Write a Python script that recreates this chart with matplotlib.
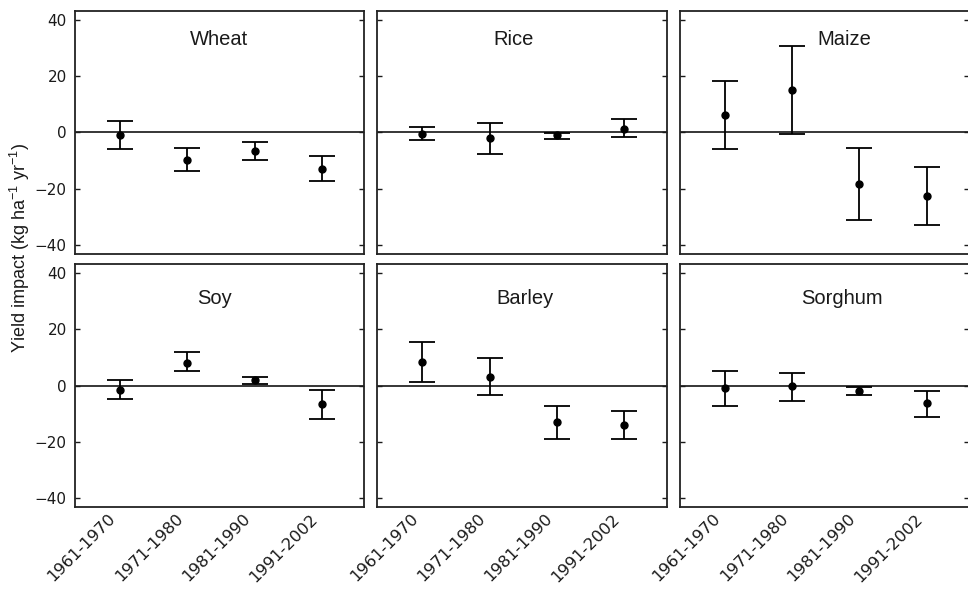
import numpy as np
import matplotlib
matplotlib.use('Agg')
import matplotlib.pyplot as plt
import matplotlib.transforms as mtransforms

plt.rcParams['font.family'] = ['Liberation Sans', 'DejaVu Sans']

periods = ['1961-1970', '1971-1980', '1981-1990', '1991-2002']
crops = ['Wheat', 'Rice', 'Maize', 'Soy', 'Barley', 'Sorghum']

# central estimate, lower and upper bound of each period, per crop
est = {
    'Wheat':   [-0.8, -9.8, -6.6, -13.0],
    'Rice':    [-0.4, -2.1, -1.1, 1.3],
    'Maize':   [6.3, 14.9, -18.2, -22.5],
    'Soy':     [-1.4, 8.1, 1.9, -6.6],
    'Barley':  [8.5, 3.2, -13.0, -14.0],
    'Sorghum': [-1.0, -0.2, -1.9, -6.3],
}
lower = {
    'Wheat':   [-5.8, -13.6, -9.8, -17.1],
    'Rice':    [-2.6, -7.8, -2.5, -1.8],
    'Maize':   [-5.8, -0.6, -31.0, -32.9],
    'Soy':     [-4.7, 5.3, 0.6, -11.8],
    'Barley':  [1.3, -3.2, -19.0, -19.0],
    'Sorghum': [-7.2, -5.3, -3.3, -11.1],
}
upper = {
    'Wheat':   [3.9, -5.7, -3.3, -8.4],
    'Rice':    [2.0, 3.2, -0.2, 4.6],
    'Maize':   [18.1, 30.6, -5.7, -12.2],
    'Soy':     [2.0, 11.8, 3.2, -1.4],
    'Barley':  [15.6, 9.8, -7.2, -9.1],
    'Sorghum': [5.3, 4.5, -0.5, -1.9],
}

# where each panel label sits (axes fraction, baseline)
title_x = [0.498, 0.472, 0.569, 0.484, 0.510, 0.559]
title_y = [0.86, 0.86, 0.86, 0.835, 0.835, 0.835]

fig, axes = plt.subplots(2, 3, figsize=(9.68, 5.9), dpi=100, sharex=True, sharey=True)
fig.subplots_adjust(left=0.0775, right=1.001, top=0.981, bottom=0.141, wspace=0.046, hspace=0.045)

txt = '#1a1a1a'
x = np.arange(1, 5)
for i, (ax, crop) in enumerate(zip(axes.flat, crops)):
    e = np.array(est[crop])
    lo = np.array(lower[crop])
    hi = np.array(upper[crop])
    ax.axhline(0, color='black', lw=1.1, zorder=1)
    ax.errorbar(x, e, yerr=[e - lo, hi - e], fmt='o', color='black', ms=5,
                elinewidth=1.3, capsize=9.7, capthick=1.3, zorder=3)
    ax.text(title_x[i], title_y[i], crop, transform=ax.transAxes, ha='center', va='baseline',
            fontsize=14.5, color=txt)
    ax.set_xlim(0.33, 4.63)
    ax.set_ylim(-43, 43)
    ax.set_yticks([-40, -20, 0, 20, 40])
    ax.tick_params(axis='y', direction='in', length=3.5, width=1, left=True, right=True,
                   pad=6, colors=txt, labelcolor=txt)
    ax.tick_params(axis='x', length=0, pad=3, labelcolor=txt)
    for lab in ax.get_yticklabels():
        lab.set_fontfamily('DejaVu Sans')
        lab.set_fontsize(11)
    for s in ax.spines.values():
        s.set_linewidth(1.3)
        s.set_color('#222222')

shift = mtransforms.ScaledTranslation(-12 / 100, 0, fig.dpi_scale_trans)
for ax in axes[1]:
    ax.set_xticks(x)
    ax.set_xticklabels(periods, rotation=45, ha='right', va='top', rotation_mode='anchor',
                       fontsize=11.8, family='DejaVu Sans')
    for lab in ax.get_xticklabels():
        lab.set_transform(lab.get_transform() + shift)

fig.text(0.021, 0.58, r'Yield impact (kg ha$^{\mathregular{-1}}$ yr$^{\mathregular{-1}}$)',
         rotation=90, ha='center', va='center', fontsize=13, color=txt)

fig.savefig('out.png', dpi=100)
